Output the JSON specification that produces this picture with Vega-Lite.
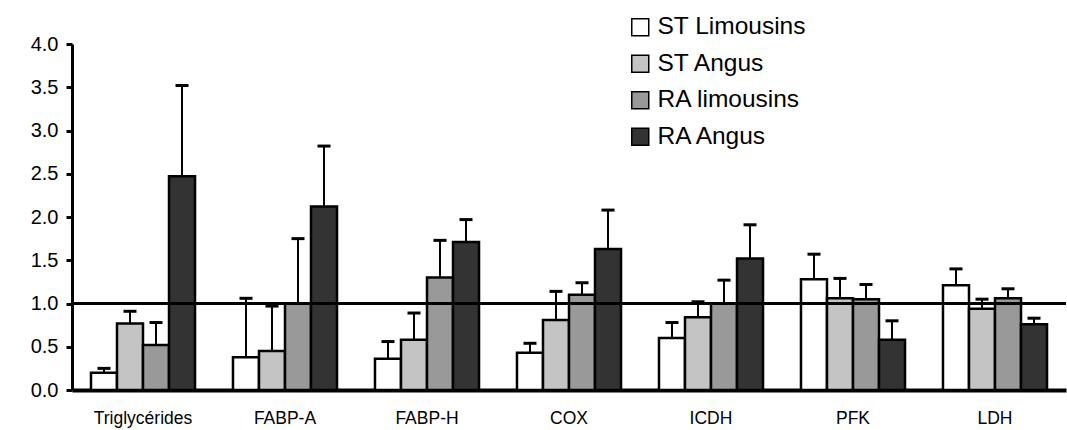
{
  "$schema": "https://vega.github.io/schema/vega-lite/v6.json",
  "autosize": "none",
  "width": 994,
  "height": 346,
  "padding": {"left": 72, "top": 44, "right": 1, "bottom": 40},
  "background": "white",
  "config": {
    "view": {"stroke": null},
    "font": "Liberation Sans",
    "axis": {"labelFont": "Liberation Sans", "labelColor": "black", "grid": false}
  },
  "data": {
    "values": [
      {"cat": "Triglycérides", "grp": "ST Limousins", "mean": 0.20, "upper": 0.25},
      {"cat": "Triglycérides", "grp": "ST Angus", "mean": 0.77, "upper": 0.91},
      {"cat": "Triglycérides", "grp": "RA limousins", "mean": 0.52, "upper": 0.78},
      {"cat": "Triglycérides", "grp": "RA Angus", "mean": 2.47, "upper": 3.52},
      {"cat": "FABP-A", "grp": "ST Limousins", "mean": 0.38, "upper": 1.06},
      {"cat": "FABP-A", "grp": "ST Angus", "mean": 0.45, "upper": 0.97},
      {"cat": "FABP-A", "grp": "RA limousins", "mean": 1.00, "upper": 1.75},
      {"cat": "FABP-A", "grp": "RA Angus", "mean": 2.12, "upper": 2.82},
      {"cat": "FABP-H", "grp": "ST Limousins", "mean": 0.36, "upper": 0.56},
      {"cat": "FABP-H", "grp": "ST Angus", "mean": 0.58, "upper": 0.89},
      {"cat": "FABP-H", "grp": "RA limousins", "mean": 1.30, "upper": 1.73},
      {"cat": "FABP-H", "grp": "RA Angus", "mean": 1.71, "upper": 1.97},
      {"cat": "COX", "grp": "ST Limousins", "mean": 0.43, "upper": 0.54},
      {"cat": "COX", "grp": "ST Angus", "mean": 0.81, "upper": 1.14},
      {"cat": "COX", "grp": "RA limousins", "mean": 1.10, "upper": 1.24},
      {"cat": "COX", "grp": "RA Angus", "mean": 1.63, "upper": 2.08},
      {"cat": "ICDH", "grp": "ST Limousins", "mean": 0.60, "upper": 0.78},
      {"cat": "ICDH", "grp": "ST Angus", "mean": 0.84, "upper": 1.02},
      {"cat": "ICDH", "grp": "RA limousins", "mean": 1.00, "upper": 1.27},
      {"cat": "ICDH", "grp": "RA Angus", "mean": 1.52, "upper": 1.91},
      {"cat": "PFK", "grp": "ST Limousins", "mean": 1.28, "upper": 1.57},
      {"cat": "PFK", "grp": "ST Angus", "mean": 1.06, "upper": 1.29},
      {"cat": "PFK", "grp": "RA limousins", "mean": 1.05, "upper": 1.22},
      {"cat": "PFK", "grp": "RA Angus", "mean": 0.58, "upper": 0.80},
      {"cat": "LDH", "grp": "ST Limousins", "mean": 1.21, "upper": 1.40},
      {"cat": "LDH", "grp": "ST Angus", "mean": 0.94, "upper": 1.05},
      {"cat": "LDH", "grp": "RA limousins", "mean": 1.06, "upper": 1.17},
      {"cat": "LDH", "grp": "RA Angus", "mean": 0.76, "upper": 0.83}
    ]
  },
  "encoding": {
    "x": {
      "field": "cat", "type": "nominal",
      "sort": ["Triglycérides", "FABP-A", "FABP-H", "COX", "ICDH", "PFK", "LDH"],
      "scale": {"paddingInner": 0, "paddingOuter": 0},
      "axis": {
        "title": null, "labelAngle": 0, "labelFontSize": 17.5, "ticks": false, "tickSize": 0,
        "labelPadding": 19, "domainColor": "black", "domainWidth": 4,
        "encode": {"labels": {"update": {"dx": {"signal": "indexof(['ICDH','LDH'], datum.value) >= 0 ? 13 : 0"}}}}
      }
    },
    "xOffset": {
      "field": "grp", "type": "nominal",
      "sort": ["ST Limousins", "ST Angus", "RA limousins", "RA Angus"],
      "scale": {"paddingInner": 0, "paddingOuter": 0.73}
    }
  },
  "layer": [
    {
      "mark": {"type": "bar", "stroke": "black", "strokeWidth": 2.5, "strokeJoin": "miter"},
      "encoding": {
        "y": {
          "field": "mean", "type": "quantitative",
          "scale": {"domain": [0, 4], "nice": false, "zero": true},
          "axis": {
            "title": null, "values": [0, 0.5, 1, 1.5, 2, 2.5, 3, 3.5, 4], "format": ".1f",
            "labelFontSize": 20, "tickSize": 6, "tickWidth": 3, "tickColor": "black",
            "domainColor": "black", "domainWidth": 3, "labelPadding": 8
          }
        },
        "fill": {
          "field": "grp", "type": "nominal",
          "sort": ["ST Limousins", "ST Angus", "RA limousins", "RA Angus"],
          "scale": {
            "domain": ["ST Limousins", "ST Angus", "RA limousins", "RA Angus"],
            "range": ["#ffffff", "#c4c4c4", "#999999", "#333333"]
          },
          "legend": {
            "title": null, "orient": "none", "legendX": 556, "legendY": -29,
            "symbolType": "square", "symbolSize": 289, "symbolStrokeColor": "black",
            "symbolStrokeWidth": 1.5, "symbolOpacity": 1, "labelFontSize": 24.5, "labelColor": "black",
            "labelOffset": 5, "rowPadding": 11.5, "padding": 0, "labelLimit": 300
          }
        }
      }
    },
    {
      "mark": {"type": "rule", "color": "black", "strokeWidth": 2},
      "encoding": {
        "y": {"field": "mean", "type": "quantitative"},
        "y2": {"field": "upper"}
      }
    },
    {
      "mark": {"type": "tick", "color": "black", "opacity": 1, "size": 13, "thickness": 3, "orient": "horizontal"},
      "encoding": {
        "y": {"field": "upper", "type": "quantitative"}
      }
    },
    {
      "mark": {"type": "rule", "color": "black", "strokeWidth": 2},
      "encoding": {
        "y": {"datum": 1},
        "xOffset": null,
        "x": null
      }
    }
  ]
}
